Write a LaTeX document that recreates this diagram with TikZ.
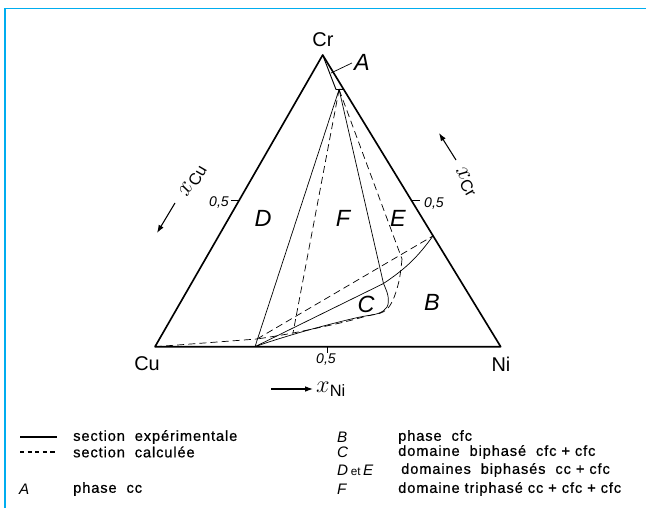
\documentclass[tikz,border=0pt]{standalone}
\usepackage{fontspec}
\setmainfont{Liberation Sans}
\newfontfamily\legfont[LetterSpace=6, FakeBold=0.6]{Liberation Sans}
\usetikzlibrary{arrows.meta, positioning, calc}

\begin{document}
\begin{tikzpicture}[
  x=0.03cm, y=-0.03cm,
  side/.style={line width=1.4pt, line join=round},
  expl/.style={line width=0.6pt},
  calcl/.style={line width=0.6pt, dash pattern=on 6pt off 3.5pt},
  elem/.style={font=\fontsize{17}{17}\selectfont, inner sep=0pt},
  reg/.style={font=\itshape\fontsize{20}{20}\selectfont, inner sep=0pt},
  half/.style={font=\itshape\fontsize{12}{12}\selectfont, inner sep=0pt},
  xlbl/.style={font=\fontsize{20}{20}\selectfont, inner sep=0pt},
  leg/.style={font=\legfont\fontsize{12.5}{14}\selectfont, anchor=west, inner sep=0pt},
  legl/.style={font=\itshape\fontsize{13}{14}\selectfont, anchor=west, inner sep=0pt},
  ar/.style={-{Latex[length=2.4mm, width=1.7mm]}, line width=0.9pt}
]
\useasboundingbox (0,0) rectangle (646,508);
\draw[cyan, line width=1.3pt] (646,8.5) -- (5,8.5) -- (5,508);

% triangle
\coordinate (Cu) at (155,346.7);
\coordinate (Ni) at (500.7,346.7);
\coordinate (Cr) at (322.7,55);
\draw[side] (Cu) -- (Ni) -- (Cr) -- cycle;

\node[elem] (lbl-cr) at (323,40)  {Cr};
\node[elem] (lbl-cu) at (147,364) {Cu};
\node[elem] (lbl-ni) at (501,364) {Ni};

% ticks at 0,5
\coordinate (m-b) at ($(Cu)!0.5!(Ni)$);
\coordinate (m-l) at ($(Cu)!0.5!(Cr)$);
\coordinate (m-r) at ($(Ni)!0.5!(Cr)$);
\draw[expl, line width=0.8pt] (m-b) -- ++(0,6);
\draw[expl, line width=0.8pt] (m-l) -- ++(-8,0);
\draw[expl, line width=0.8pt] (m-r) -- ++(8,0);
\node[half] (h-b) at (326,359) {0,5};
\node[half, anchor=east] (h-l) at (229,202) {0,5};
\node[half, anchor=west] (h-r) at (424,203) {0,5};

% composition axes
\coordinate (ax-l1) at (175,203);
\coordinate (ax-l2) at (157,233);
\coordinate (ax-r1) at (456,160);
\coordinate (ax-r2) at (439,133);
\coordinate (ax-b1) at (271,389);
\coordinate (ax-b2) at (313,389);
\draw[ar] (ax-l1) -- (ax-l2);
\draw[ar] (ax-r1) -- (ax-r2);
\draw[ar] (ax-b1) -- (ax-b2);
\node[xlbl, rotate=60]  (x-cu) at (193,181) {$x$\textsubscript{\fontsize{14}{14}\selectfont Cu}};
\node[xlbl, rotate=-60] (x-cr) at (466,182) {$x$\textsubscript{\fontsize{14}{14}\selectfont Cr}};
\node[xlbl, anchor=west] (x-ni) at (316,389) {$x$\textsubscript{\fontsize{14}{14}\selectfont Ni}};

% phase cc (A)
\coordinate (a1) at (336,89.5);
\coordinate (a2) at ($(Cr)!0.118!(Ni)$);
\coordinate (fa) at ($(a1)!0.4!(a2)$);
\draw[expl, line width=0.8pt] (Cr) -- (a1) -- (a2);
\node[reg] (lbl-a) at (362,62) {A};
\coordinate (a-pt) at (331,73);
\draw[expl] (lbl-a.west) ++(-2,1) -- (a-pt);

% experimental section
\coordinate (d1) at (255,346.7);
\coordinate (c1) at (383.5,283.5);
\coordinate (b1) at ($(Cr)!0.62!(Ni)$);
\draw[expl] (fa) -- (d1);
\draw[expl] (fa) -- (c1);
\draw[expl] (d1) -- (c1);
\draw[expl] (c1) to[bend right=10] (b1);
\draw[expl] plot[smooth, tension=0.6] coordinates {(383.5,283.5) (388,296) (387,307)
  (378,313.5) (360,317) (335,323) (305,331) (275,340) (255,346.7)};

% calculated section
\coordinate (d2) at (293,333);
\coordinate (c2) at (402,259);
\coordinate (dl) at (257,339);
\draw[calcl] (fa) -- (d2);
\draw[calcl] (fa) -- (c2);
\draw[calcl] (Cu) -- (dl);
\draw[calcl] (dl) -- (b1);
\draw[calcl] plot[smooth, tension=0.6] coordinates {(402,259) (399,281) (392,302)
  (383,312) (367,316) (340,323) (293,333) (257,339)};

% domains
\node[reg] (reg-d) at (263,218) {D};
\node[reg] (reg-f) at (343,218) {F};
\node[reg] (reg-e) at (398,218) {E};
\node[reg] (reg-c) at (366,304) {C};
\node[reg] (reg-b) at (432,302) {B};

% legend
\coordinate (ls1) at (20,437);
\coordinate (ls2) at (57,437);
\coordinate (lc1) at (20,452);
\coordinate (lc2) at (57,452);
\draw[line width=1pt] (ls1) -- (ls2);
\draw[line width=1pt, dash pattern=on 3.5pt off 3pt] (lc1) -- (lc2);
\node[leg] (t-exp) at (73,437) {section~ expérimentale};
\node[leg] (t-cal) at (73,452) {section~ calculée};
\node[legl] (k-a) at (19,489) {A};
\node[leg]  (t-a) at (73,489) {phase~ cc};

\node[legl] (k-b) at (337,437) {B};
\node[legl] (k-c) at (337,452) {C};
\node[legl] (k-de) at (337,470) {D\,{\upshape\fontsize{10}{10}\selectfont et}\,E};
\node[legl] (k-f) at (337,489) {F};
\node[leg] (t-b) at (398,437) {phase~ cfc};
\node[leg] (t-c) at (398,452) {domaine~ biphasé~ cfc + cfc};
\node[leg] (t-de) at (401,470) {domaines~ biphasés~ cc + cfc};
\node[leg] (t-f) at (398,489) {domaine triphasé cc + cfc + cfc};
\end{tikzpicture}
\end{document}
